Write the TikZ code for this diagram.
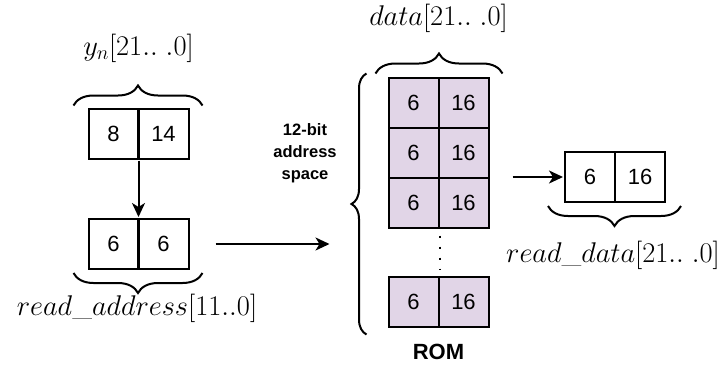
\RequirePackage{fix-cm}
\documentclass[tikz,border=0pt]{standalone}
\usepackage{fontspec}
\setsansfont{Liberation Sans}
\usetikzlibrary{matrix,arrows.meta,decorations.pathreplacing}

\definecolor{romfill}{HTML}{E1D5E7}

\begin{document}
\begin{tikzpicture}[x=1pt,y=-1pt,line width=2pt,
    bitbox/.style={matrix of nodes, inner sep=0pt, row sep=-2pt, column sep=-2pt,
      nodes={draw,minimum width=50pt,minimum height=50pt,inner sep=0pt,
        font=\fontsize{22}{22}\sffamily}},
    brc/.style={decorate,decoration={brace,amplitude=#1}},
    brc/.default=20pt,
    arr/.style={-{Stealth[length=14pt,width=13pt,inset=4pt]}},
    lbl/.style={font=\fontsize{28.5}{28}\selectfont}
  ]
  \useasboundingbox (0,0) rectangle (721,365);

  \matrix (yn) [bitbox] at (138.5,133.5) {
    8 & 14 \\
  };
  \matrix (addr) [bitbox] at (138.5,244) {
    6 & 6 \\
  };
  \matrix (rom) [bitbox, nodes={fill=romfill}] at (438.5,202) {
    6 & 16 \\
    6 & 16 \\
    6 & 16 \\[49pt]
    6 & 16 \\
  };
  \matrix (rd) [bitbox] at (615,177) {
    6 & 16 \\
  };

  \draw[brc] ([xshift=-13pt,yshift=1pt]yn.north west) -- ([xshift=12pt,yshift=1pt]yn.north east);
  \draw[brc] ([xshift=12pt,yshift=-2pt]addr.south east) -- ([xshift=-13pt,yshift=-2pt]addr.south west);
  \draw[brc] ([xshift=-11pt,yshift=2pt]rom.north west) -- ([xshift=12pt,yshift=2pt]rom.north east);
  \draw[brc=15pt] ([xshift=-20pt,yshift=-6pt]rom.south west) -- ([xshift=-20pt,yshift=2pt]rom.north west);
  \draw[brc] ([xshift=14pt,yshift=-2pt]rd.south east) -- ([xshift=-15pt,yshift=-2pt]rd.south west);

  \draw[line width=2pt,dash pattern=on 2pt off 9pt] ([yshift=-7pt]rom-3-1.south east) -- ([yshift=6pt]rom-4-1.north east);

  \draw[arr] (yn.south) -- (addr.north);
  \draw[arr] ([xshift=25pt]addr.east) -- ([xshift=-57pt]addr.east -| rom.west);
  \draw[arr] ([xshift=22pt]rd.west -| rom.east) -- (rd.west);

  \node[lbl] (ynlbl) at (138.5,48) {$y_n[21..\;.0]$};
  \node[lbl] (addrlbl) at (137,308) {$read\_address[11..0]$};
  \node[lbl] (datalbl) at (438.5,18) {$data[21..\;.0]$};
  \node[lbl] (rdlbl) at (613,255) {$read\_data[21..\;.0]$};
  \node[align=center,font=\fontsize{16.5}{22}\sffamily\bfseries] (space) at (305,153) {12-bit\\address\\space};
  \node[font=\fontsize{22}{22}\sffamily\bfseries] (romlbl) at (438.5,352) {ROM};
\end{tikzpicture}
\end{document}
